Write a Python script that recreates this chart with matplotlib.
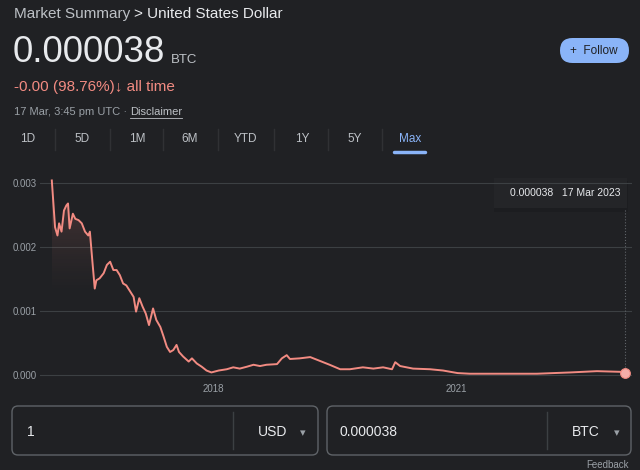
import numpy as np
import matplotlib
matplotlib.use('Agg')
import matplotlib.pyplot as plt
from matplotlib.patches import FancyBboxPatch, Rectangle, Polygon

plt.rcParams['font.family'] = ['Liberation Sans', 'DejaVu Sans']

# USD -> BTC rate (decimal years)
anos = [2016.01, 2016.05, 2016.08, 2016.10, 2016.13, 2016.16, 2016.19, 2016.21, 2016.23, 2016.27,
        2016.30, 2016.34, 2016.38, 2016.42, 2016.46, 2016.48, 2016.51, 2016.54, 2016.56, 2016.60,
        2016.65, 2016.69, 2016.73, 2016.77, 2016.81, 2016.85, 2016.89, 2016.93, 2016.98, 2017.02,
        2017.05, 2017.09, 2017.13, 2017.17, 2017.21, 2017.26, 2017.30, 2017.35, 2017.39, 2017.43,
        2017.47, 2017.51, 2017.55, 2017.58, 2017.63, 2017.70, 2017.74, 2017.80, 2017.86, 2017.92,
        2017.98, 2018.07, 2018.17, 2018.25, 2018.33, 2018.42, 2018.50, 2018.58, 2018.66, 2018.79,
        2018.85, 2018.91, 2018.95, 2019.07, 2019.20, 2019.30, 2019.44, 2019.57, 2019.69, 2019.85,
        2019.98, 2020.10, 2020.21, 2020.25, 2020.31, 2020.47, 2020.68, 2020.84, 2021.02, 2021.17,
        2021.58, 2022.00, 2022.41, 2022.74, 2023.02, 2023.09]
taxa_mil = [3.04, 2.31, 2.18, 2.37, 2.24, 2.57, 2.65, 2.68, 2.29, 2.52,
            2.44, 2.42, 2.37, 2.24, 2.18, 2.24, 1.79, 1.35, 1.48, 1.51,
            1.59, 1.72, 1.77, 1.64, 1.64, 1.56, 1.43, 1.40, 1.30, 1.22,
            0.99, 1.20, 1.07, 0.96, 0.78, 1.04, 0.86, 0.75, 0.60, 0.44,
            0.36, 0.39, 0.47, 0.36, 0.29, 0.21, 0.26, 0.18, 0.13, 0.07,
            0.04, 0.07, 0.09, 0.12, 0.10, 0.13, 0.16, 0.14, 0.16, 0.17,
            0.26, 0.31, 0.25, 0.26, 0.28, 0.23, 0.16, 0.09, 0.09, 0.12,
            0.10, 0.12, 0.09, 0.20, 0.14, 0.10, 0.09, 0.07, 0.03, 0.02,
            0.02, 0.02, 0.04, 0.06, 0.05, 0.038]
taxa = [v / 1000 for v in taxa_mil]

yticks = [0.0, 0.001, 0.002, 0.003]
ytick_labels = ['0.000', '0.001', '0.002', '0.003']
xticks = [2018, 2021]
xtick_labels = ['2018', '2021']
abas = ['1D', '5D', '1M', '6M', 'YTD', '1Y', '5Y', 'Max']

BG = '#202124'
CINZA = '#9aa0a6'
CLARO = '#e8eaed'
LINHA = '#f28b82'
AZUL = '#8ab4f8'

fig = plt.figure(figsize=(6.4, 4.7), dpi=100)
fig.patch.set_facecolor(BG)

# camada de fundo em pixels
ov = fig.add_axes([0, 0, 1, 1])
ov.set_xlim(0, 640)
ov.set_ylim(470, 0)
ov.axis('off')

t1 = ov.text(14, 14, 'Market Summary', color='#bdc1c6', fontsize=11, va='center')
ov.annotate('> United States Dollar', xy=(1, 0.5), xycoords=t1, xytext=(3, 0),
            textcoords='offset points', va='center', color=CLARO, fontsize=11)

tb = ov.text(13, 53, '0.000038', color=CLARO, fontsize=26.5, va='center')
ov.annotate('BTC', xy=(1, 0.22), xycoords=tb, xytext=(4, 0), textcoords='offset points',
            va='baseline', color='#bdc1c6', fontsize=9.5)

ov.text(14, 87, '-0.00 (98.76%)\u2193 all time', color=LINHA, fontsize=11, va='center')

t3 = ov.text(14, 112, '17 Mar, 3:45 pm UTC \u00b7 ', color=CINZA, fontsize=8, va='center')
t4 = ov.annotate('Disclaimer', xy=(1, 0.5), xycoords=t3, va='center', color='#bdc1c6', fontsize=8)

# abas de período
pos_abas = [28, 82, 137, 190, 245, 302, 355, 410]
for nome, px in zip(abas, pos_abas):
    cor = AZUL if nome == 'Max' else '#bdc1c6'
    ov.text(px, 139, nome, color=cor, fontsize=8.5, ha='center', va='center')
for sx in [55, 110, 163, 218, 274, 328, 382]:
    ov.plot([sx, sx], [129, 150], color='#303134', lw=1)
ov.plot([394, 425], [152, 152], color=AZUL, lw=2.5, solid_capstyle='round')

# botão Follow
ov.add_patch(FancyBboxPatch((560, 38), 69, 25, boxstyle='round,pad=0,rounding_size=12.5',
                            facecolor=AZUL, edgecolor='none'))
ov.text(594, 50.5, '+  Follow', color=BG, fontsize=8.5, ha='center', va='center')

# conversor
for x0, w, sep in [(12, 306, 233), (327, 304, 547)]:
    ov.add_patch(FancyBboxPatch((x0, 406), w, 49, boxstyle='round,pad=0,rounding_size=6',
                                facecolor=BG, edgecolor='#5f6368', lw=1))
    ov.plot([sep, sep], [412, 449], color='#3c4043', lw=1)
ov.text(27, 432, '1', color=CLARO, fontsize=10, va='center')
ov.text(273, 432, 'USD', color=CLARO, fontsize=10, ha='center', va='center')
ov.text(303, 433, '\u25be', color=CINZA, fontsize=8, ha='center', va='center')
ov.text(339, 432, '0.000038', color=CLARO, fontsize=10, va='center')
ov.text(586, 432, 'BTC', color=CLARO, fontsize=10, ha='center', va='center')
ov.text(617, 433, '\u25be', color=CINZA, fontsize=8, ha='center', va='center')
ov.text(586, 460, 'Feedback', color=CINZA, fontsize=7, va='top')

# tooltip
ov.add_patch(Rectangle((494, 181), 134, 31, facecolor='#1c1d20', edgecolor='none'))
ov.add_patch(Rectangle((494, 178), 133, 30, facecolor='#242528', edgecolor='none'))
ov.text(620, 193, '0.000038   17 Mar 2023', color=CLARO, fontsize=7.5, ha='right', va='center')

# gráfico
ax = fig.add_axes([40 / 640, 1 - 378 / 470, 592 / 640, 208 / 470])
ax.set_facecolor('none')
for s in ax.spines.values():
    s.set_visible(False)
for y in yticks:
    ax.axhline(y, color='#3c4043', lw=0.8, zorder=1)

ax.set_yticks(yticks)
ax.set_yticklabels(ytick_labels)
ax.set_xticks(xticks)
ax.set_xticklabels(xtick_labels)
ax.tick_params(axis='y', length=0, colors=CINZA, labelsize=7, pad=20)
ax.tick_params(axis='x', length=0, colors=CINZA, labelsize=7, pad=4.5)
for lab in ax.get_yticklabels():
    lab.set_horizontalalignment('left')

# sombreamento no início
anos_a = np.array(anos)
taxa_a = np.array(taxa)
msk = anos_a <= 2016.52
poly_x = np.concatenate([anos_a[msk], [anos_a[msk][-1], anos_a[0]]])
poly_y = np.concatenate([taxa_a[msk], [0.0012, 0.0012]])
clip = Polygon(np.column_stack([poly_x, poly_y]), closed=True, transform=ax.transData,
               facecolor='none', edgecolor='none')
ax.add_patch(clip)
grad = np.zeros((100, 2, 4))
grad[..., :3] = matplotlib.colors.to_rgb(LINHA)
grad[..., 3] = np.linspace(0.30, 0.0, 100)[:, None] ** 1.3
im = ax.imshow(grad, extent=[anos[0], 2016.52, 0.0012, 0.0030], aspect='auto',
               origin='upper', zorder=2, interpolation='bilinear')
im.set_clip_path(clip)
ax.set_xlim(2018 + (40 - 213) / 81, 2018 + (632 - 213) / 81)
ax.set_ylim(-3 / 64000, 205 / 64000)

ax.plot(anos, taxa, color=LINHA, lw=1.4, zorder=3)
ax.vlines(anos[-1], taxa[-1], 0.00259, colors='#5f6368', linestyles=':', lw=0.8, zorder=2)
ax.plot(anos[-1], taxa[-1], 'o', color='#f6aea9', markersize=7, markeredgecolor=LINHA,
        markeredgewidth=0.8, zorder=4, clip_on=False)

# sublinhado do Disclaimer
fig.canvas.draw()
bb = t4.get_window_extent().transformed(ov.transData.inverted())
ov.plot([bb.x0, bb.x1], [bb.y0 + 0.5, bb.y0 + 0.5], color='#bdc1c6', lw=0.6)

fig.savefig('out.png', dpi=100, facecolor=BG)
